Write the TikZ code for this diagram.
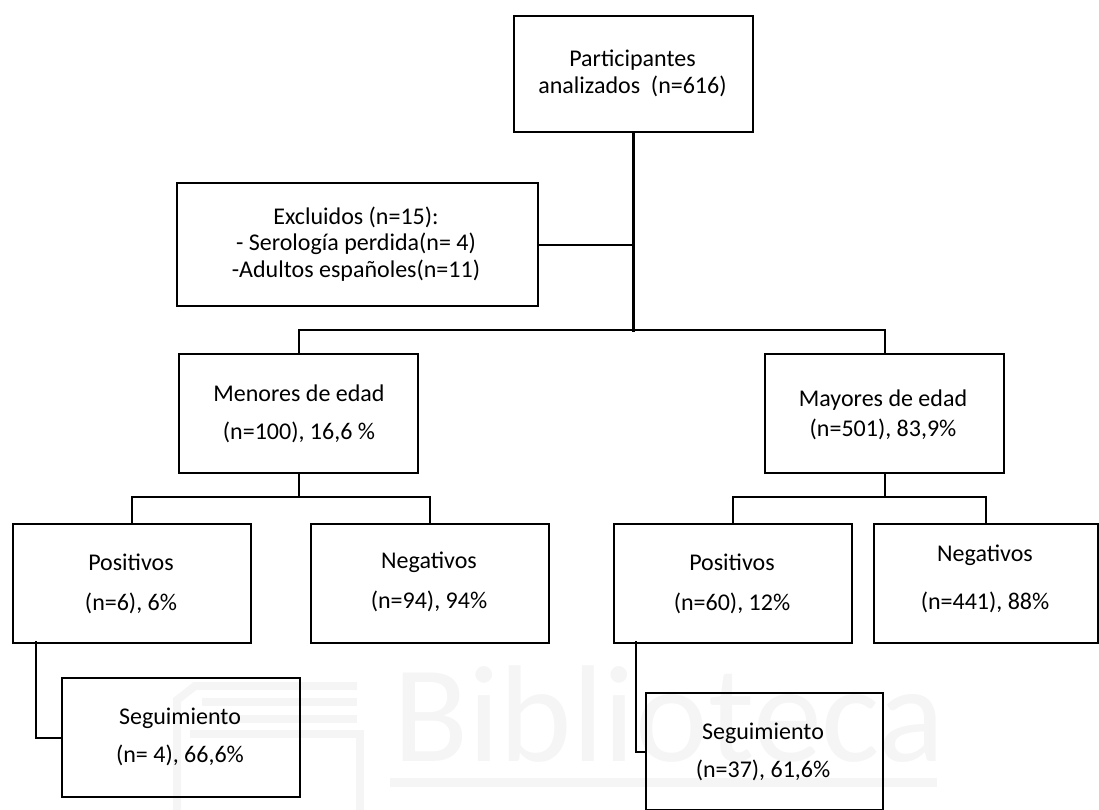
\documentclass[tikz,border=0pt]{standalone}
\usepackage{fontspec}
\setmainfont{Carlito}
\tikzset{
  x=1pt,y=-1pt,
  box/.style={draw=black,line width=2.3pt,rectangle,inner sep=0pt,anchor=north west},
  lbl/.style={align=center,inner sep=0pt,font=\fontsize{24}{26.5}\selectfont},
  conn/.style={draw=black,line width=2.3pt,line cap=rect},
  thick conn/.style={draw=black,line width=3pt,line cap=rect},
  wm/.style={inner sep=0pt,text=black!4},
  wmline/.style={draw=black!4,line width=8pt},
}
\newcommand{\bx}[5]{\node[box,minimum width=#4-#2,minimum height=#5-#3] (#1) at (#2,#3) {};}
\begin{document}
\begin{tikzpicture}
\useasboundingbox (0,0) rectangle (1099,810);
\clip (0,0) rectangle (1099,810);
% watermark
\node[wm,anchor=west,font=\fontsize{138}{138}\selectfont] (wm1) at (393,714) {Biblioteca};
\fill[black!4] (390,778) rectangle (937,787);
\coordinate (w1) at (177,810);
\coordinate (w2) at (177,700);
\coordinate (w3) at (195,686);
\coordinate (w4) at (357,686);
\draw[wmline] (w1) -- (w2) -- (w3) -- (w4);
\coordinate (w5) at (202,702);
\coordinate (w6) at (357,702);
\coordinate (w7) at (202,719);
\coordinate (w8) at (357,719);
\coordinate (w9) at (190,734);
\coordinate (w10) at (360,734);
\coordinate (w11) at (360,810);
\draw[wmline] (w5) -- (w6);
\draw[wmline] (w7) -- (w8);
\draw[wmline] (w9) -- (w10) -- (w11);
% boxes
\bx{top}{513}{15}{752}{131}
\bx{excl}{176}{182}{537}{305}
\bx{men}{178}{353}{417}{472}
\bx{may}{764}{353}{1003}{472}
\bx{posa}{12}{523}{250}{642}
\bx{nega}{310}{523}{548}{642}
\bx{posb}{613}{523}{851}{642}
\bx{negb}{873}{523}{1097}{642}
\bx{sega}{61}{677}{299}{796}
\bx{segb}{645}{692}{882}{809}
% texts
\node[lbl] (ttop) at (632.5,73.5) {Participantes\\analizados\ \ (n=616)};
\node[lbl] (texcl) at (356,244) {Excluidos (n=15):\\- Serología perdida(n= 4)\\-Adultos españoles(n=11)};
\node[lbl] (tmen) at (299,414) {Menores de edad\\[11.5pt](n=100), 16,6 \%};
\node[lbl] (tmay) at (883,415) {Mayores de edad\\[3pt](n=501), 83,9\%};
\node[lbl] (tposa) at (131,584) {Positivos\\[13pt](n=6), 6\%};
\node[lbl] (tnega) at (429,582) {Negativos\\[13pt](n=94), 94\%};
\node[lbl] (tposb) at (732,584) {Positivos\\[13pt](n=60), 12\%};
\node[lbl] (tnegb) at (985,579) {Negativos\\[21pt](n=441), 88\%};
\node[lbl] (tsega) at (180,737) {Seguimiento\\[11pt](n= 4), 66,6\%};
\node[lbl] (tsegb) at (763,752) {Seguimiento\\[11pt](n=37), 61,6\%};
% connectors
\coordinate (j1) at (top.south |- 0,330);
\coordinate (j2) at (men.south |- 0,497);
\coordinate (j3) at (may.south |- 0,497);
\draw[thick conn] (top.south) -- (j1);
\draw[conn] (excl.east) -- (excl.east -| top.south);
\draw[conn] (men.north) -- (men.north |- j1) -- (may.north |- j1) -- (may.north);
\draw[conn] (men.south) -- (j2);
\draw[conn] (posa.north) -- (posa.north |- j2) -- (nega.north |- j2) -- (nega.north);
\draw[conn] (may.south) -- (j3);
\draw[conn] (posb.north) -- (posb.north |- j3) -- (negb.north |- j3) -- (negb.north);
\coordinate (sa) at (36,642);
\coordinate (sb) at (636,642);
\draw[conn] (sa) -- (sa |- sega.west) -- (sega.west);
\draw[conn] (sb) -- (sb |- 0,752) -- (segb.west |- 0,752);
\end{tikzpicture}
\end{document}
